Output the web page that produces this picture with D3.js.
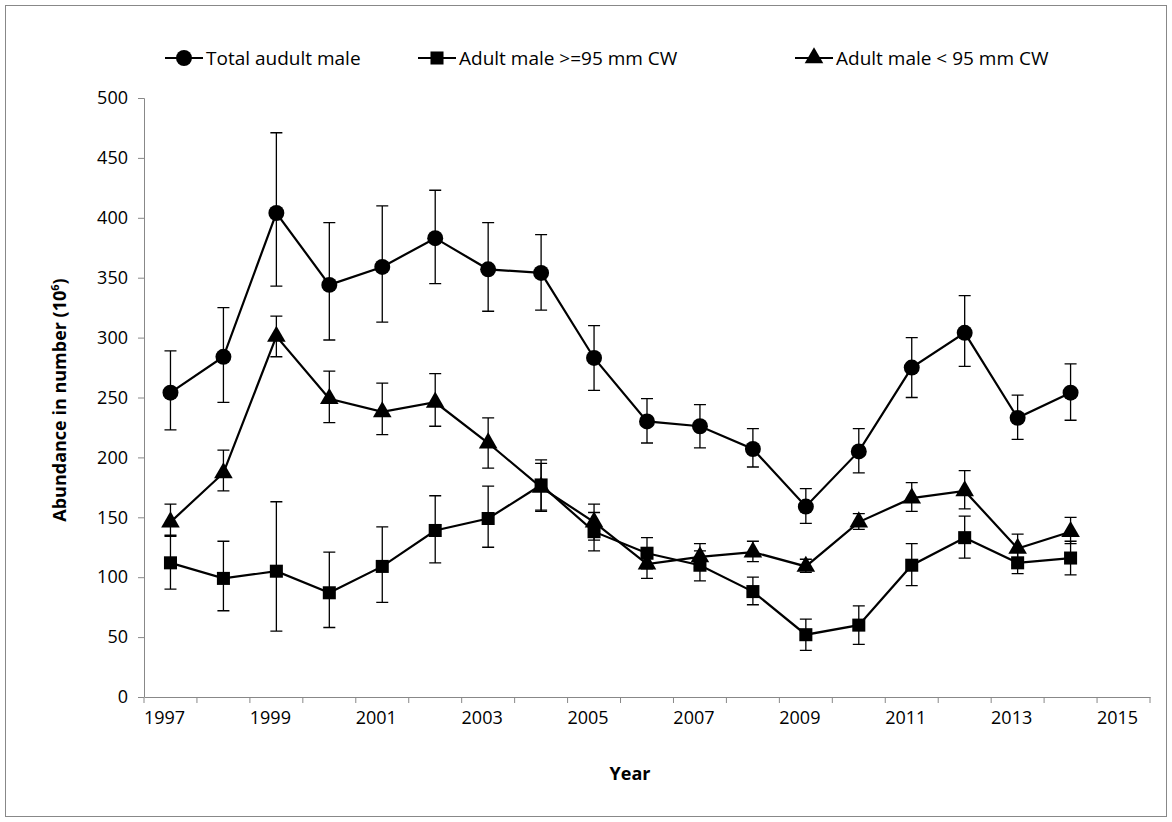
<!DOCTYPE html>
<html><head><meta charset="utf-8">
<script src="https://cdn.jsdelivr.net/npm/d3@7"></script>
<style>body{margin:0;background:#fff}text{font-family:"Open Sans",Arial,sans-serif}</style>
</head><body><svg width="1172" height="822"></svg>
<script>
var years = d3.range(1997, 2016);
var dataYears = d3.range(1997, 2015);
var total = [254,284,404,344,359,383,357,354,283,230,226,207,159,205,275,304,233,254];
var totalLo = [223,246,343,298,313,345,322,323,256,212,208,192,145,187,250,276,215,231];
var totalHi = [289,325,471,396,410,423,396,386,310,249,244,224,174,224,300,335,252,278];
var big = [112,99,105,87,109,139,149,177,138,120,110,88,52,60,110,133,112,116];
var bigLo = [90,72,55,58,79,112,125,156,122,107,97,77,39,44,93,116,103,102];
var bigHi = [134,130,163,121,142,168,176,198,154,133,122,100,65,76,128,151,122,130];
var small = [146,187,301,249,238,246,212,175,146,111,117,121,109,146,166,172,124,138];
var smallLo = [135,172,284,229,219,226,191,155,131,99,108,113,104,140,155,157,110,128];
var smallHi = [161,206,318,272,262,270,233,195,161,124,128,130,115,153,179,189,136,150];
var yTicks = [0,50,100,150,200,250,300,350,400,450,500];

var svg = d3.select('svg');
svg.append('rect').attr('x',5.5).attr('y',5.5).attr('width',1161).attr('height',811)
  .attr('fill','none').attr('stroke','#888');

var x = d3.scaleBand().domain(years).range([144,1150]);
var y = d3.scaleLinear().domain([0,500]).range([697,98]);

var ya = svg.append('g').attr('transform','translate(144,0)')
  .call(d3.axisLeft(y).tickValues(yTicks).tickSize(6).tickPadding(10));
var xa = svg.append('g').attr('transform','translate(-6,697)')
  .call(d3.axisBottom(x).tickSize(0).tickPadding(14).tickFormat(function(d){return d%2 ? d : '';}));
svg.append('g').selectAll('line').data(d3.range(20)).enter().append('line')
  .attr('x1',function(i){return 144+i*x.step();}).attr('x2',function(i){return 144+i*x.step();})
  .attr('y1',697).attr('y2',703).attr('stroke','#888');
[ya,xa].forEach(function(a){
  a.selectAll('path,line').attr('stroke','#888');
  a.selectAll('text').attr('font-size',18).attr('fill','#000');
});
xa.select('.domain').attr('transform','translate(6,0)');
ya.select('.domain').attr('d','M-6,98.5H0.5V697');

svg.append('text').attr('x',630).attr('y',780).attr('text-anchor','middle')
  .attr('font-weight','bold').attr('font-size',18).text('Year');
svg.append('text').attr('transform','translate(66,400) rotate(-90)').attr('text-anchor','middle')
  .attr('font-weight','bold').attr('font-size',18)
  .html('Abundance in number (10<tspan dy="-7" font-size="11">6</tspan><tspan dy="7">)</tspan>');

var series = [
  {name:'Total audult male', v:total, lo:totalLo, hi:totalHi, sym:d3.symbolCircle, size:200},
  {name:'Adult male >=95 mm CW', v:big, lo:bigLo, hi:bigHi, sym:d3.symbolSquare, size:170},
  {name:'Adult male < 95 mm CW', v:small, lo:smallLo, hi:smallHi, sym:d3.symbolTriangle, size:150}
];
function cx(i){return x(dataYears[i]) + x.bandwidth()/2;}
var line = d3.line().x(function(d,i){return cx(i);}).y(function(d){return y(d);});

series.forEach(function(s){
  var g = svg.append('g');
  g.selectAll('.eb').data(s.v).enter().append('path')
    .attr('d',function(d,i){var X=cx(i),a=y(s.lo[i]),b=y(s.hi[i]);
      return 'M'+X+','+a+'V'+b+'M'+(X-6)+','+a+'H'+(X+6)+'M'+(X-6)+','+b+'H'+(X+6);})
    .attr('stroke','#000').attr('stroke-width',1.3).attr('fill','none');
  g.append('path').attr('d',line(s.v)).attr('fill','none').attr('stroke','#000').attr('stroke-width',2.2);
  g.selectAll('.pt').data(s.v).enter().append('path')
    .attr('d',d3.symbol().type(s.sym).size(s.size))
    .attr('transform',function(d,i){return 'translate('+cx(i)+','+y(d)+')';});
});

var lx = [165,418,795];
series.forEach(function(s,i){
  var g = svg.append('g').attr('transform','translate('+lx[i]+',58)');
  g.append('line').attr('x1',0).attr('x2',38).attr('stroke','#000').attr('stroke-width',2.2);
  g.append('path').attr('transform','translate(19,0)').attr('d',d3.symbol().type(s.sym).size(s.size));
  g.append('text').attr('x',41).attr('y',7).attr('font-size',19).text(s.name);
});
</script></body></html>
